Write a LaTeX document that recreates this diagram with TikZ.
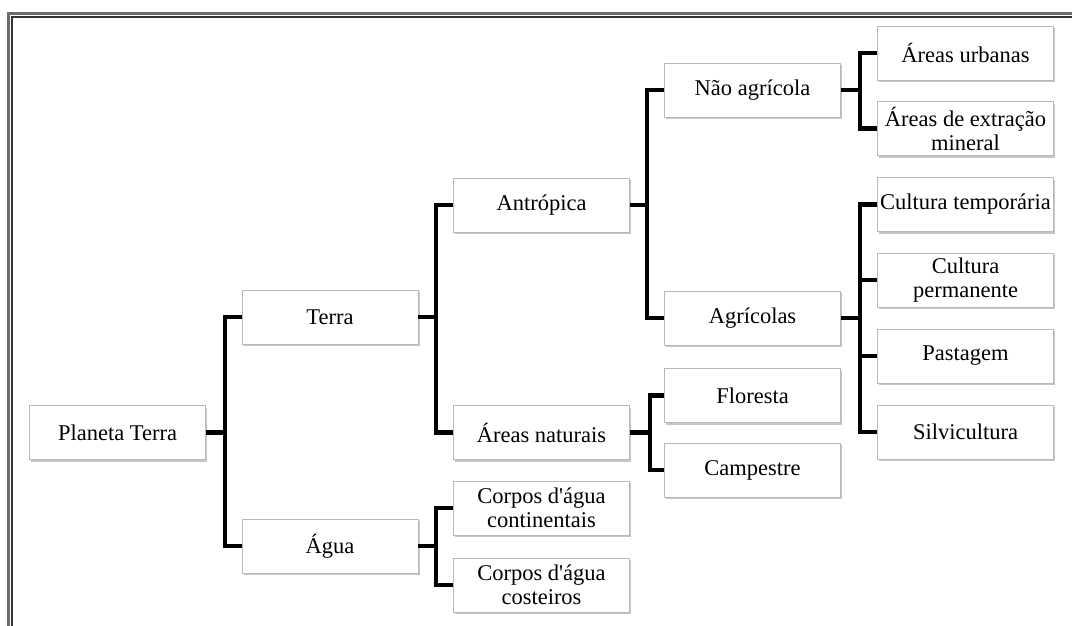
\documentclass[tikz,border=0pt]{standalone}
\usepackage{fontspec}
\setmainfont{Liberation Serif}
\usetikzlibrary{shadows}
\tikzset{
  box/.style={draw=gray!55, line width=0.8pt, fill=white, minimum width=176pt, minimum height=54pt,
    inner sep=1pt, align=center, font=\fontsize{22.5}{24}\selectfont,
    drop shadow={shadow xshift=1.5pt, shadow yshift=-2.2pt, opacity=0.45, fill=gray}},
  conn/.style={line width=4.4pt, black, line join=miter},
}
\begin{document}
\begin{tikzpicture}[x=1pt,y=-1pt]
\useasboundingbox (0,0) rectangle (1072,626);
% frame
\draw[gray!85!black, line width=2.8pt] (8.3,626) -- (8.3,13.3) -- (1072,13.3);
\draw[black!80, line width=1.6pt] (11.8,626) -- (11.8,16.8) -- (1072,16.8);
% nodes
\node[box] (pt) at (117.5,432.5) {Planeta Terra};
\node[box] (terra) at (330,317) {Terra};
\node[box] (agua) at (330,546) {Água};
\node[box] (antr) at (541.5,205) {Antrópica};
\node[box] (nat) at (541.5,432.5) {Áreas naturais};
\node[box] (cont) at (541.5,508) {Corpos d\textquotesingle água\\continentais};
\node[box] (cost) at (541.5,585) {Corpos d\textquotesingle água\\costeiros};
\node[box] (nao) at (752.5,90) {Não agrícola};
\node[box] (agr) at (752.5,318) {Agrícolas};
\node[box] (flo) at (752.5,395.5) {Floresta};
\node[box] (camp) at (752.5,470) {Campestre};
\node[box] (urb) at (965.5,53) {Áreas urbanas};
\node[box] (ext) at (965.5,128.5) {Áreas de extração\\mineral};
\node[box] (ctemp) at (965.5,204.5) {Cultura temporária};
\node[box] (cperm) at (965.5,280) {Cultura\\permanente};
\node[box] (past) at (965.5,356) {Pastagem};
\node[box] (silv) at (965.5,432) {Silvicultura};
% trunk coordinates
\coordinate (t1) at (225,432.5);
\coordinate (t2) at (436,317);
\coordinate (t3) at (436,546);
\coordinate (t4) at (647,205);
\coordinate (t5) at (650,432.5);
\coordinate (t6) at (860,90);
\coordinate (t7) at (860,318);
% connectors
\draw[conn] (pt.east) -- (t1);
\draw[conn] (terra.west) -| (t1) |- (agua.west);
\draw[conn] (terra.east) -- (t2);
\draw[conn] (antr.west) -| (t2) |- (nat.west);
\draw[conn] (agua.east) -- (t3);
\draw[conn] (cont.west) -| (t3) |- (cost.west);
\draw[conn] (antr.east) -- (t4);
\draw[conn] (nao.west) -| (t4) |- (agr.west);
\draw[conn] (nat.east) -- (t5);
\draw[conn] (flo.west) -| (t5) |- (camp.west);
\draw[conn] (nao.east) -- (t6);
\draw[conn] (urb.west) -| (t6) |- (ext.west);
\draw[conn] (agr.east) -- (t7);
\draw[conn] (ctemp.west) -| (t7) |- (silv.west);
\draw[conn] (t7 |- cperm.west) -- (cperm.west);
\draw[conn] (t7 |- past.west) -- (past.west);
\end{tikzpicture}
\end{document}
